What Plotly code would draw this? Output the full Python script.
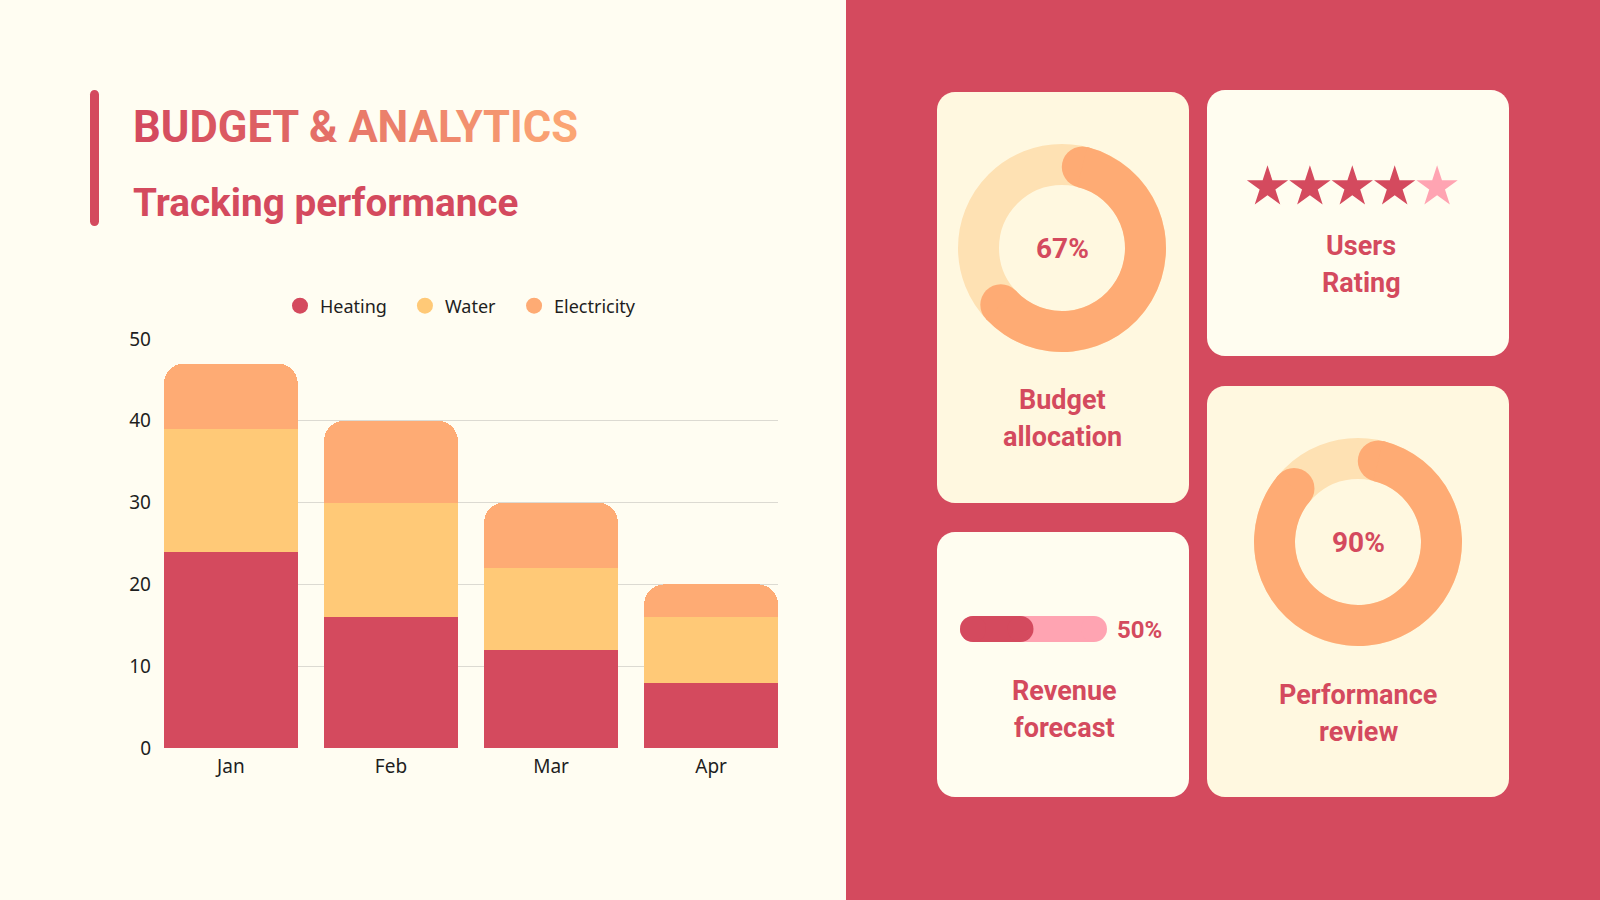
import math
import plotly.graph_objects as go

W, H = 1600, 900

# stacked bar data
months = ["Jan", "Feb", "Mar", "Apr"]
heating = [24, 16, 12, 8]
water = [15, 14, 10, 8]
electricity = [8, 10, 8, 4]
series_names = ["Heating", "Water", "Electricity"]
y_ticks = [0, 10, 20, 30, 40, 50]

# kpi cards
budget_pct = 67
performance_pct = 90
revenue_pct = 50
rating = 4
rating_max = 5

title_text = "BUDGET & ANALYTICS"
subtitle_text = "Tracking performance"

RED = "#D44A5E"
YELLOW = "#FFC977"
ORANGE = "#FEAB74"
CREAM = "#FFFDF2"
CARD_WARM = "#FFF8E0"
CARD_LIGHT = "#FFFDF0"
TRACK = "#FEE1B3"
PINK = "#FFA4B2"
TEXT_DARK = "#1E1E1E"

LABEL_FONT = "Roboto, Noto Sans, sans-serif"
CHART_FONT = "Noto Sans, Open Sans, sans-serif"


def rrect(x0, y0, x1, y1, r):
    k = 0.5523 * r
    return (f"M{x0 + r},{y0} L{x1 - r},{y0} C{x1 - r + k},{y0} {x1},{y0 + r - k} {x1},{y0 + r} "
            f"L{x1},{y1 - r} C{x1},{y1 - r + k} {x1 - r + k},{y1} {x1 - r},{y1} "
            f"L{x0 + r},{y1} C{x0 + r - k},{y1} {x0},{y1 - r + k} {x0},{y1 - r} "
            f"L{x0},{y0 + r} C{x0},{y0 + r - k} {x0 + r - k},{y0} {x0 + r},{y0} Z")


def mix(c0, c1, t):
    a = [int(c0[i:i + 2], 16) for i in (1, 3, 5)]
    b = [int(c1[i:i + 2], 16) for i in (1, 3, 5)]
    return "#" + "".join(f"{round(a[i] + (b[i] - a[i]) * t):02X}" for i in range(3))


fig = go.Figure()

# ---- stacked bars
for name, vals, color in zip(series_names, [heating, water, electricity], [RED, YELLOW, ORANGE]):
    fig.add_trace(go.Bar(x=months, y=vals, name=name, showlegend=False,
                         marker=dict(color=color, line=dict(width=0))))
for name, color in zip(series_names, [RED, YELLOW, ORANGE]):
    fig.add_trace(go.Scatter(x=[None], y=[None], mode="markers", name=name,
                             marker=dict(color=color, size=16, symbol="circle")))

# ---- pixel overlay for cards
shapes = []
shapes.append(dict(type="rect", xref="x2", yref="y2", x0=846, x1=W, y0=0, y1=H,
                   fillcolor=RED, line=dict(width=0), layer="below"))
shapes.append(dict(type="path", xref="x2", yref="y2", path=rrect(90, 90, 99, 226, 4.5),
                   fillcolor=RED, line=dict(width=0), layer="below"))
cards = [
    (937, 92, 1189, 503, CARD_WARM),
    (1207, 90, 1509, 356, CARD_LIGHT),
    (937, 532, 1189, 797, CARD_LIGHT),
    (1207, 386, 1509, 797, CARD_WARM),
]
for x0, y0, x1, y1, c in cards:
    shapes.append(dict(type="path", xref="x2", yref="y2", path=rrect(x0, y0, x1, y1, 18),
                       fillcolor=c, line=dict(width=0), layer="below"))

# donuts
R_OUT, R_IN = 104, 63
RM = (R_OUT + R_IN) / 2
THICK = R_OUT - R_IN
cap = math.degrees((THICK / 2) / RM)
donuts = [(1062, 248, budget_pct), (1358, 542, performance_pct)]
for cx, cy, pct in donuts:
    shapes.append(dict(type="circle", xref="x2", yref="y2", x0=cx - RM, x1=cx + RM,
                       y0=cy - RM, y1=cy + RM, line=dict(color=TRACK, width=THICK),
                       fillcolor="rgba(0,0,0,0)", layer="below"))
    span = pct * 3.6 - 2 * cap
    fig.add_trace(go.Pie(values=[span, 360 - span], sort=False, direction="clockwise",
                         rotation=cap, hole=R_IN / R_OUT, textinfo="none", showlegend=False,
                         marker=dict(colors=[ORANGE, "rgba(0,0,0,0)"], line=dict(width=0)),
                         domain=dict(x=[(cx - R_OUT) / W, (cx + R_OUT) / W],
                                     y=[1 - (cy + R_OUT) / H, 1 - (cy - R_OUT) / H])))
    angs = [math.radians(cap), math.radians(cap + span)]
    fig.add_trace(go.Scatter(x=[cx + RM * math.sin(a) for a in angs],
                             y=[cy - RM * math.cos(a) for a in angs],
                             mode="markers", xaxis="x2", yaxis="y2", showlegend=False,
                             marker=dict(color=ORANGE, size=THICK, line=dict(width=0))))

# rating stars
fig.add_trace(go.Scatter(x=[1267.5 + 42.4 * i for i in range(rating_max)], y=[187] * rating_max,
                         mode="markers", xaxis="x2", yaxis="y2", showlegend=False,
                         marker=dict(symbol="star", size=31, line=dict(width=0),
                                     color=[RED if i < rating else PINK for i in range(rating_max)])))

# revenue progress bar
BAR_X0, BAR_LEN, BAR_Y, BAR_H = 960, 147, 629, 26
for frac, c in [(1.0, PINK), (revenue_pct / 100, RED)]:
    fig.add_trace(go.Scatter(x=[BAR_X0 + BAR_H / 2, BAR_X0 + frac * BAR_LEN - BAR_H / 2],
                             y=[BAR_Y, BAR_Y], mode="lines+markers", xaxis="x2", yaxis="y2",
                             showlegend=False, line=dict(color=c, width=BAR_H),
                             marker=dict(color=c, size=BAR_H, line=dict(width=0))))

# ---- text
ann = []
title_html = "".join(
    f"<span style='color:{mix(RED, '#FBA574', i / (len(title_text) - 1))}'>"
    f"{'&amp;' if ch == '&' else ch}</span>" for i, ch in enumerate(title_text))
ann.append(dict(x=131, y=127, text=f"<b>{title_html}</b>", xanchor="left", yanchor="middle",
                font=dict(family=LABEL_FONT, size=43.5)))
ann.append(dict(x=131, y=202, text=f"<b>{subtitle_text}</b>", xanchor="left", yanchor="middle",
                font=dict(family=LABEL_FONT, size=38.7, color=RED)))

card_texts = [
    (1062, [400, 437], ["Budget", "allocation"]),
    (1361, [246, 283], ["Users", "Rating"]),
    (1064, [691, 728], ["Revenue", "forecast"]),
    (1358, [695, 732], ["Performance", "review"]),
]
for x, ys, lines in card_texts:
    for y, line in zip(ys, lines):
        ann.append(dict(x=x, y=y, text=f"<b>{line}</b>", xanchor="center", yanchor="middle",
                        font=dict(family=LABEL_FONT, size=27, color=RED)))
for cx, cy, pct in donuts:
    ann.append(dict(x=cx, y=cy, text=f"<b>{pct}%</b>", xanchor="center", yanchor="middle",
                    font=dict(family=LABEL_FONT, size=28, color=RED)))
ann.append(dict(x=1115, y=BAR_Y + 1, text=f"<b>{revenue_pct}%</b>", xanchor="left", yanchor="middle",
                font=dict(family=LABEL_FONT, size=24, color=RED)))
for a in ann:
    a.update(xref="x2", yref="y2", showarrow=False)

fig.update_layout(
    width=W, height=H, autosize=False,
    margin=dict(l=0, r=0, t=0, b=0, pad=0, autoexpand=False),
    paper_bgcolor=CREAM, plot_bgcolor="rgba(0,0,0,0)",
    barmode="stack", bargap=0.164, barcornerradius=20,
    hovermode=False,
    showlegend=True,
    legend=dict(orientation="h", x=267 / W, xanchor="left", y=1 - 306 / H, yanchor="middle",
                bgcolor="rgba(0,0,0,0)", font=dict(family=CHART_FONT, size=18, color=TEXT_DARK),
                indentation=13, traceorder="normal"),
    xaxis=dict(domain=[164 / W, 778 / W], range=[-0.418, 3.418], type="category",
               showgrid=False, zeroline=False, showline=False, ticks="",
               tickfont=dict(family=CHART_FONT, size=19, color=TEXT_DARK), ticklabelstandoff=5),
    yaxis=dict(domain=[1 - 748 / H, 1 - 339 / H], range=[0, 50], tickvals=y_ticks,
               showgrid=True, gridcolor="#DCDAD2", gridwidth=1, zeroline=False, showline=False,
               ticks="", tickfont=dict(family=CHART_FONT, size=19, color=TEXT_DARK),
               ticklabelstandoff=12),
    xaxis2=dict(domain=[0, 1], range=[0, W], visible=False, anchor="y2"),
    yaxis2=dict(domain=[0, 1], range=[H, 0], visible=False, anchor="x2"),
    shapes=shapes,
    annotations=ann,
)

fig.write_html("out.html", config={"displayModeBar": False},
               post_script="document.body.style.margin='0px';")
